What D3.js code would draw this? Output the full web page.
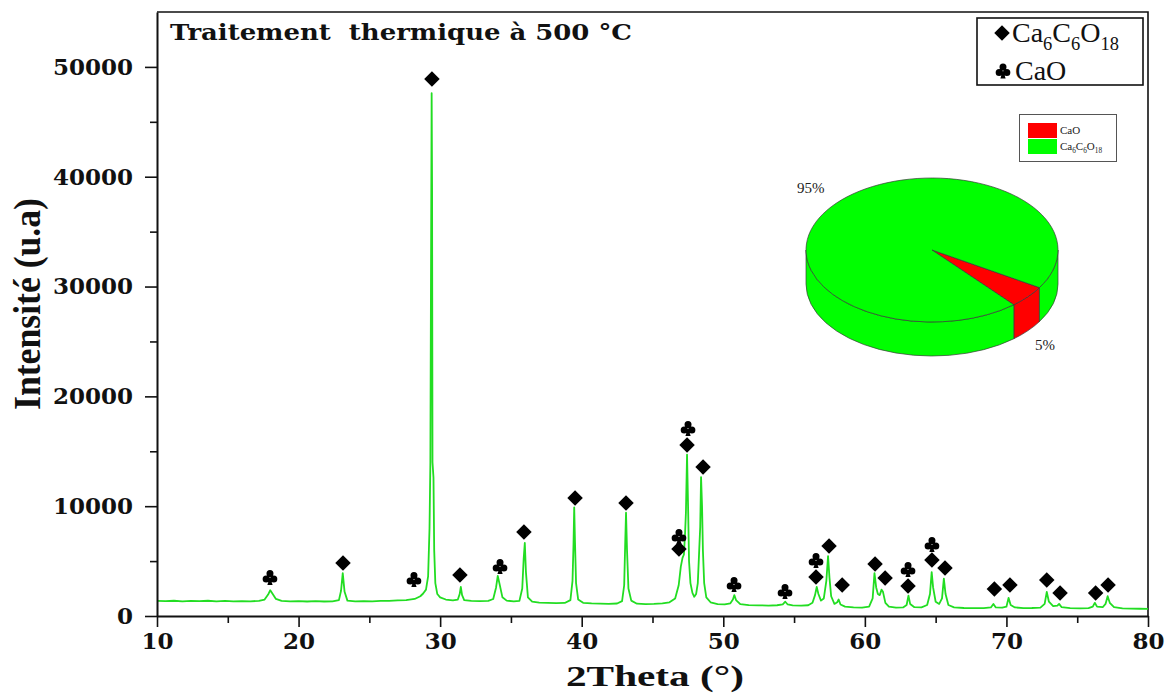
<!DOCTYPE html>
<html>
<head>
<meta charset="utf-8">
<script src="https://cdn.jsdelivr.net/npm/d3@7"></script>
<style>
  html, body { margin: 0; padding: 0; background: #fff; }
  svg { display: block; }
</style>
</head>
<body>
<svg id="chart" width="1169" height="695"></svg>
<script>
// XRD pattern after heat treatment at 500 °C
const twoTheta = [
  10.0, 10.6, 11.2, 11.8, 12.4, 13.0, 13.6, 14.2, 14.8, 15.4, 16.0, 16.6, 17.2, 17.6, 17.85, 18.0, 18.15, 18.4, 18.8,
  19.4, 20.0, 20.6, 21.2, 21.8, 22.4, 22.85, 23.0, 23.12, 23.25, 23.45, 24.0, 24.6, 25.2, 25.8, 26.4, 27.0, 27.6,
  28.2, 28.6, 28.8, 29.0, 29.15, 29.25, 29.31, 29.35, 29.4, 29.43, 29.46, 29.53, 29.58, 29.66, 29.8, 30.0, 30.4,
  30.9, 31.25, 31.38, 31.46, 31.55, 31.7, 32.2, 32.8, 33.4, 33.75, 33.95, 34.07, 34.2, 34.4, 34.7, 35.2, 35.6,
  35.8, 35.9, 35.98, 36.06, 36.2, 36.5, 37.0, 37.6, 38.2, 38.8, 39.2, 39.35, 39.42, 39.47, 39.52, 39.6, 39.75,
  40.1, 40.7, 41.3, 41.9, 42.5, 42.85, 43.0, 43.07, 43.13, 43.2, 43.3, 43.5, 43.9, 44.5, 45.1, 45.7, 46.2, 46.6,
  46.85, 47.0, 47.12, 47.22, 47.3, 47.36, 47.44, 47.52, 47.58, 47.68, 47.82, 47.95, 48.08, 48.2, 48.3, 48.37,
  48.43, 48.5, 48.56, 48.65, 48.8, 49.1, 49.6, 50.1, 50.5, 50.68, 50.78, 50.9, 51.2, 51.8, 52.5, 53.2, 53.8,
  54.2, 54.38, 54.55, 54.9, 55.5, 56.0, 56.3, 56.48, 56.6, 56.72, 56.9, 57.1, 57.28, 57.4, 57.5, 57.62, 57.85,
  58.05, 58.15, 58.28, 58.6, 59.2, 59.8, 60.3, 60.55, 60.68, 60.8, 60.92, 61.05, 61.18, 61.28, 61.45, 61.7,
  62.2, 62.7, 62.95, 63.08, 63.2, 63.5, 64.0, 64.4, 64.6, 64.72, 64.82, 65.0, 65.25, 65.45, 65.58, 65.7, 65.9,
  66.3, 67.0, 67.7, 68.4, 68.9, 69.08, 69.25, 69.7, 70.0, 70.15, 70.3, 70.6, 71.2, 71.8, 72.4, 72.7, 72.85,
  73.0, 73.3, 73.6, 73.72, 73.9, 74.5, 75.2, 75.8, 76.1, 76.24, 76.4, 76.8, 77.0, 77.15, 77.3, 77.6, 78.2,
  78.8, 79.4, 80.0
];
const intensity = [
  1380, 1350, 1390, 1340, 1380, 1350, 1390, 1340, 1370, 1330, 1360, 1340, 1380, 1500, 1950, 2350, 2050, 1550, 1380,
  1340, 1360, 1320, 1350, 1320, 1340, 1450, 2300, 3900, 2200, 1400, 1330, 1360, 1340, 1380, 1370, 1420, 1450,
  1550, 1800, 2050, 2400, 3600, 8000, 14000, 29500, 47600, 39000, 14000, 12600, 6000, 3000, 2000, 1700, 1500,
  1420, 1500, 2000, 2650, 1900, 1450, 1380, 1360, 1380, 1550, 2600, 3650, 2900, 1700, 1400, 1330, 1380,
  2500, 5200, 6650, 4000, 1700, 1300, 1220, 1200, 1170, 1190, 1450, 3200, 6500, 9900, 7000, 3000, 1500,
  1200, 1150, 1130, 1110, 1140, 1350, 2800, 6500, 9400, 6000, 2500, 1400, 1120, 1080, 1100, 1150, 1250, 1600,
  2800, 4500, 5300, 5600, 7500, 9400, 14700, 9500, 5000, 3000, 2100, 1750, 2000, 3000, 6000, 8100,
  12650, 10000, 6000, 3000, 1700, 1250, 1080, 1050, 1150, 1500, 1900, 1450, 1080, 990, 970, 950, 980,
  1050, 1300, 1050, 960, 940, 980, 1200, 1900, 2650, 2000, 1400, 1600, 3200, 5450, 3500, 1800, 1100,
  1250, 1500, 1050, 850, 780, 770, 850, 1600, 3900, 2600, 2000, 1900, 2400, 2200, 1200, 850,
  760, 780, 1000, 1850, 1100, 800, 790, 1000, 2000, 4000, 2600, 1300, 1100, 1600, 3400, 2000, 1000,
  780, 730, 720, 710, 780, 1100, 780, 760, 850, 1650, 1000, 780, 720, 730, 760, 1100, 2200,
  1300, 900, 950, 1100, 800, 720, 700, 720, 850, 1200, 850, 800, 1100, 1800, 1200, 800, 700,
  680, 660, 650
];

// Phase identification marks: "D" = Ca6C6O18 (diamond), "C" = CaO (club)
const markerTheta = [
  17.98, 23.14, 28.15, 29.42, 31.4, 34.23, 35.92, 39.53, 43.13, 46.87, 46.87, 47.51, 47.44, 48.57, 50.76, 54.36,
  56.55, 56.55, 57.47, 58.4, 60.72, 61.43, 63.05, 63.05, 64.74, 64.74, 65.66, 69.15, 70.25, 72.85, 73.79, 76.3, 77.18
];
const markerLevel = [
  3460, 4830, 3280, 48900, 3730, 4460, 7650, 10750, 10290, 7190, 6100, 17030, 15570, 13570, 2820, 2190,
  5010, 3550, 6370, 2820, 4740, 3460, 4190, 2730, 6470, 5100, 4370, 2460, 2820, 3280, 2090, 2090, 2820
];
const markerPhase = [
  "C", "D", "C", "D", "D", "C", "D", "D", "D", "C", "D", "C", "D", "D", "C", "C",
  "C", "D", "D", "D", "D", "D", "C", "D", "C", "D", "D", "D", "D", "D", "D", "D", "D"
];

const xTicks = [10, 20, 30, 40, 50, 60, 70, 80];
const xMinorTicks = [15, 25, 35, 45, 55, 65, 75];
const yTicks = [0, 10000, 20000, 30000, 40000, 50000];
const yMinorTicks = [5000, 15000, 25000, 35000, 45000];

// Phase composition inset
const phaseNames = ["CaO", "Ca6C6O18"];
const phaseShares = [5, 95];
const phaseColors = ["#ff0000", "#00ff00"];
const phaseLabels = ["5%", "95%"];

const titleText = "Traitement  thermique à 500 °C";
const formulaCa6C6O18 = [["Ca", false], ["6", true], ["C", false], ["6", true], ["O", false], ["18", true]];

const W = 1169, H = 695;
const plot = { left: 157, right: 1148, top: 12, bottom: 616 };

const svg = d3.select("#chart");
svg.append("rect").attr("width", W).attr("height", H).attr("fill", "#fff");

const x = d3.scaleLinear().domain([10, 80]).range([plot.left, plot.right]);
const y = d3.scaleLinear().domain([0, 55000]).range([plot.bottom, plot.top]);

const serifBold = "'DejaVu Serif', serif";
const times = "'Liberation Serif', 'Times New Roman', serif";

// frame: top and right edges
svg.append("path")
  .attr("d", `M${plot.left},${plot.top}H${plot.right}V${plot.bottom}`)
  .attr("fill", "none").attr("stroke", "#111").attr("stroke-width", 1.6);

// pattern line
const line = d3.line().x((d, i) => x(twoTheta[i])).y(d => y(d));
svg.append("path")
  .datum(intensity)
  .attr("d", line)
  .attr("fill", "none")
  .attr("stroke", "#22dd22")
  .attr("stroke-width", 1.8)
  .attr("stroke-linejoin", "round");

// axes
function styleAxis(g) {
  g.select(".domain").attr("stroke", "#111").attr("stroke-width", 2);
  g.selectAll(".tick line").attr("stroke", "#111").attr("stroke-width", 1.6);
}
const xAxis = svg.append("g").attr("transform", `translate(0,${plot.bottom})`)
  .call(d3.axisBottom(x).tickValues(xTicks).tickSize(11).tickSizeOuter(0).tickPadding(6).tickFormat(d3.format("d")));
xAxis.call(styleAxis);
xAxis.selectAll(".tick text").attr("font-family", serifBold).attr("font-weight", "bold").attr("font-size", 23).attr("fill", "#111");
const xMinor = svg.append("g").attr("transform", `translate(0,${plot.bottom})`)
  .call(d3.axisBottom(x).tickValues(xMinorTicks).tickSize(7).tickFormat(""));
xMinor.select(".domain").remove();
xMinor.selectAll(".tick line").attr("stroke", "#111").attr("stroke-width", 1.6);

const yAxis = svg.append("g").attr("transform", `translate(${plot.left},0)`)
  .call(d3.axisLeft(y).tickValues(yTicks).tickSize(12).tickSizeOuter(0).tickPadding(12).tickFormat(d3.format("d")));
yAxis.call(styleAxis);
yAxis.selectAll(".tick text").attr("font-family", serifBold).attr("font-weight", "bold").attr("font-size", 23).attr("fill", "#111");
const yMinor = svg.append("g").attr("transform", `translate(${plot.left},0)`)
  .call(d3.axisLeft(y).tickValues(yMinorTicks).tickSize(7).tickFormat(""));
yMinor.select(".domain").remove();
yMinor.selectAll(".tick line").attr("stroke", "#111").attr("stroke-width", 1.6);

// axis titles
svg.append("text")
  .attr("x", 655).attr("y", 686)
  .attr("text-anchor", "middle")
  .attr("font-family", times).attr("font-weight", "bold").attr("font-size", 30)
  .attr("textLength", 178).attr("lengthAdjust", "spacingAndGlyphs")
  .attr("fill", "#111")
  .text("2Theta (°)");
svg.append("text")
  .attr("transform", "translate(40,304) rotate(-90)")
  .attr("text-anchor", "middle")
  .attr("font-family", times).attr("font-weight", "bold").attr("font-size", 37)
  .attr("textLength", 212).attr("lengthAdjust", "spacingAndGlyphs")
  .attr("fill", "#111")
  .text("Intensité (u.a)");

// title
svg.append("text")
  .attr("x", 170).attr("y", 40)
  .attr("font-family", serifBold).attr("font-weight", "bold").attr("font-size", 22)
  .attr("textLength", 462).attr("lengthAdjust", "spacingAndGlyphs")
  .style("white-space", "pre")
  .attr("fill", "#111")
  .text(titleText);

// marker shapes
const diamondPath = d3.symbol(d3.symbolSquare, 120)();
function clubPath(r) {
  const circ = (cx, cy) => `M${cx - r},${cy}a${r},${r} 0 1,0 ${2 * r},0a${r},${r} 0 1,0 ${-2 * r},0`;
  return circ(0, -1.15 * r) + circ(-1.1 * r, 0.45 * r) + circ(1.1 * r, 0.45 * r) +
    `M0,${-0.2 * r}L${-0.75 * r},${2.15 * r}L${0.75 * r},${2.15 * r}Z`;
}
const club = clubPath(3.5);

const markers = svg.append("g").attr("fill", "#000");
markerTheta.forEach((t, i) => {
  const px = x(t), py = y(markerLevel[i]);
  if (markerPhase[i] === "D") {
    markers.append("path").attr("d", diamondPath).attr("transform", `translate(${px},${py}) rotate(45)`);
  } else {
    markers.append("path").attr("d", club).attr("transform", `translate(${px},${py - 0.5})`);
  }
});

// chemical formula with subscripts
function writeFormula(textSel, parts, size) {
  const shift = size * 0.28;
  parts.forEach(([s, sub], i) => {
    const prevSub = i > 0 && parts[i - 1][1];
    const t = textSel.append("tspan").text(s);
    if (sub) t.attr("font-size", size * 0.66).attr("dy", prevSub ? 0 : shift);
    else if (prevSub) t.attr("dy", -shift);
  });
}

// phase legend
const leg = svg.append("g");
leg.append("rect").attr("x", 977).attr("y", 18).attr("width", 166).attr("height", 67)
  .attr("fill", "#fff").attr("stroke", "#111").attr("stroke-width", 1.6);
leg.append("path").attr("d", diamondPath).attr("transform", "translate(1002,33) rotate(45)");
const l1 = leg.append("text").attr("x", 1012).attr("y", 42)
  .attr("font-family", times).attr("font-size", 28).attr("fill", "#111");
writeFormula(l1, formulaCa6C6O18, 28);
leg.append("path").attr("d", club).attr("transform", "translate(1003,71)");
leg.append("text").attr("x", 1015).attr("y", 80)
  .attr("font-family", times).attr("font-size", 28).attr("fill", "#111")
  .text(phaseNames[0]);

// 3D pie inset
const pc = { cx: 932, cy: 250, rx: 126, ry: 72, depth: 34 };
const pieStart = 121.5 * Math.PI / 180;
const slices = d3.pie().sort(null).startAngle(pieStart).endAngle(pieStart + 2 * Math.PI)(phaseShares);
const pt = (a, dy = 0) => [pc.cx + pc.rx * Math.sin(a), pc.cy - pc.ry * Math.cos(a) + dy];
const pieG = svg.append("g").attr("stroke", "#3a3a3a").attr("stroke-width", 0.7).attr("stroke-linejoin", "round");

// outer walls, only the half facing the viewer
slices.forEach((s, i) => {
  for (let k = -1; k <= 1; k++) {
    const lo = Math.max(s.startAngle, Math.PI / 2 + 2 * Math.PI * k);
    const hi = Math.min(s.endAngle, 3 * Math.PI / 2 + 2 * Math.PI * k);
    if (hi > lo) {
      const [x1, y1] = pt(lo), [x2, y2] = pt(hi);
      const d = `M${x1},${y1}A${pc.rx},${pc.ry} 0 0,1 ${x2},${y2}` +
        `L${x2},${y2 + pc.depth}A${pc.rx},${pc.ry} 0 0,0 ${x1},${y1 + pc.depth}Z`;
      pieG.append("path").attr("d", d).attr("fill", phaseColors[i]);
    }
  }
});
// top faces
slices.forEach((s, i) => {
  const [x1, y1] = pt(s.startAngle), [x2, y2] = pt(s.endAngle);
  const large = (s.endAngle - s.startAngle) > Math.PI ? 1 : 0;
  const d = `M${pc.cx},${pc.cy}L${x1},${y1}A${pc.rx},${pc.ry} 0 ${large},1 ${x2},${y2}Z`;
  pieG.append("path").attr("d", d).attr("fill", phaseColors[i]);
});

svg.append("text").attr("x", 797).attr("y", 193)
  .attr("font-family", times).attr("font-size", 15).attr("fill", "#222").text(phaseLabels[1]);
svg.append("text").attr("x", 1035).attr("y", 350)
  .attr("font-family", times).attr("font-size", 15).attr("fill", "#222").text(phaseLabels[0]);

// pie legend
const pl = svg.append("g");
pl.append("rect").attr("x", 1019.5).attr("y", 114.5).attr("width", 97).attr("height", 47)
  .attr("fill", "#fff").attr("stroke", "#555").attr("stroke-width", 1);
phaseNames.forEach((n, i) => {
  pl.append("rect").attr("x", 1028).attr("y", 123 + i * 16).attr("width", 29).attr("height", 15)
    .attr("fill", phaseColors[i]);
  const t = pl.append("text").attr("x", 1060).attr("y", 134 + i * 16)
    .attr("font-family", times).attr("font-size", 11).attr("fill", "#222");
  if (i === 0) t.text(n);
  else writeFormula(t, formulaCa6C6O18, 11);
});
</script>
</body>
</html>
